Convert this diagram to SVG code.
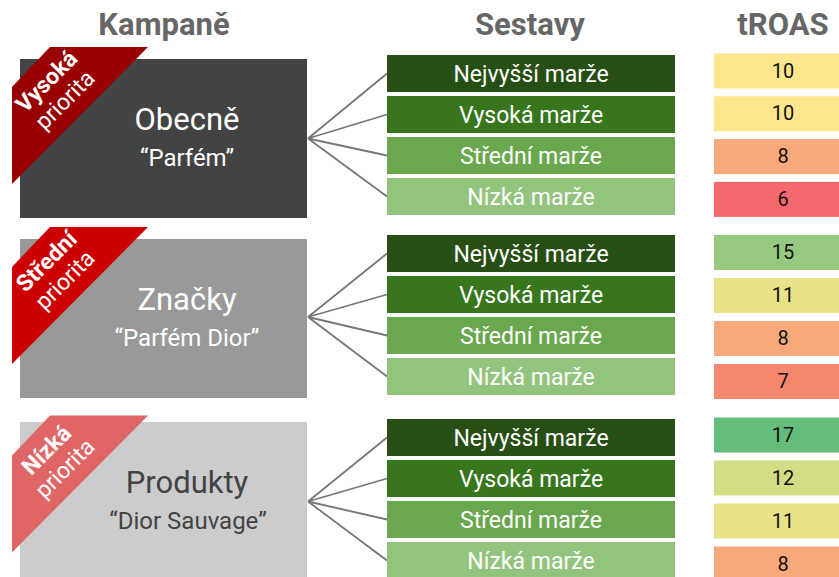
<svg xmlns="http://www.w3.org/2000/svg" width="839" height="577" viewBox="0 0 839 577">
  <style>
    text { font-family: Roboto, "Liberation Sans", sans-serif; }
    .hdr { font-size: 31px; font-weight: bold; fill: #666666; text-anchor: middle; }
    .ttl { font-size: 31px; text-anchor: middle; }
    .sub { font-size: 24px; text-anchor: middle; }
    .rb1 { font-size: 23px; font-weight: bold; fill: #ffffff; text-anchor: middle; }
    .rb2 { font-size: 23px; fill: #ffffff; text-anchor: middle; }
    .set { font-size: 23px; fill: #ffffff; text-anchor: middle; }
    .roas { font-size: 20px; fill: #111111; text-anchor: middle; }
    .link { stroke: #777777; stroke-width: 1.8; fill: none; }
  </style>

  <!-- column headers -->
  <g id="headers">
    <text class="hdr" x="164" y="35">Kampaně</text>
    <text class="hdr" x="530" y="35">Sestavy</text>
    <text class="hdr" x="783" y="35">tROAS</text>
  </g>

  <!-- connectors: campaign box to its ad groups -->
  <g id="connectors">
    <path class="link" d="M308 138.5 L387 73.5 M308 138.5 L387 114.5 M308 138.5 L387 155.5 M308 138.5 L387 196.5"/>
    <path class="link" d="M308 317 L387 253.5 M308 317 L387 294.5 M308 317 L387 335.5 M308 317 L387 376.5"/>
    <path class="link" d="M308 501.5 L387 437.5 M308 501.5 L387 478.5 M308 501.5 L387 519.5 M308 501.5 L387 560.5"/>
  </g>

  <!-- campaigns -->
  <g id="campaign-obecne">
    <rect x="20" y="59" width="287" height="159" fill="#434343"/>
    <polygon points="50,47 148,47 12,184 12,87" fill="#990000"/>
    <g transform="translate(55.5,90.5) rotate(-45)">
      <text class="rb1" x="0" y="-5">Vysoká</text>
      <text class="rb2" x="0" y="21">priorita</text>
    </g>
    <text class="ttl" x="187" y="130" fill="#ffffff">Obecně</text>
    <text class="sub" x="187" y="166" fill="#ffffff">“Parfém”</text>
  </g>

  <g id="campaign-znacky">
    <rect x="20" y="239" width="287" height="159" fill="#999999"/>
    <polygon points="50,227 148,227 12,364 12,267" fill="#cc0000"/>
    <g transform="translate(55.5,270.5) rotate(-45)">
      <text class="rb1" x="0" y="-5">Střední</text>
      <text class="rb2" x="0" y="21">priorita</text>
    </g>
    <text class="ttl" x="187" y="310" fill="#ffffff">Značky</text>
    <text class="sub" x="187" y="346" fill="#ffffff">“Parfém Dior”</text>
  </g>

  <g id="campaign-produkty">
    <rect x="20" y="422" width="287" height="159" fill="#cccccc"/>
    <polygon points="50,415.5 148,415.5 12,552.5 12,455.5" fill="#e06666"/>
    <g transform="translate(55.5,459) rotate(-45)">
      <text class="rb1" x="0" y="-5">Nízká</text>
      <text class="rb2" x="0" y="21">priorita</text>
    </g>
    <text class="ttl" x="187" y="493" fill="#434343">Produkty</text>
    <text class="sub" x="188" y="529" fill="#434343">“Dior Sauvage”</text>
  </g>

  <!-- ad groups -->
  <g id="sestavy-1">
    <rect x="387" y="55" width="288" height="37" fill="#274e13"/>
    <text class="set" x="531" y="82">Nejvyšší marže</text>
    <rect x="387" y="96" width="288" height="37" fill="#38761d"/>
    <text class="set" x="531" y="123">Vysoká marže</text>
    <rect x="387" y="137" width="288" height="37" fill="#6aa84f"/>
    <text class="set" x="531" y="164">Střední marže</text>
    <rect x="387" y="178" width="288" height="37" fill="#93c47d"/>
    <text class="set" x="531" y="205">Nízká marže</text>
  </g>

  <g id="sestavy-2">
    <rect x="387" y="235" width="288" height="37" fill="#274e13"/>
    <text class="set" x="531" y="262">Nejvyšší marže</text>
    <rect x="387" y="276" width="288" height="37" fill="#38761d"/>
    <text class="set" x="531" y="303">Vysoká marže</text>
    <rect x="387" y="317" width="288" height="37" fill="#6aa84f"/>
    <text class="set" x="531" y="344">Střední marže</text>
    <rect x="387" y="358" width="288" height="37" fill="#93c47d"/>
    <text class="set" x="531" y="385">Nízká marže</text>
  </g>

  <g id="sestavy-3">
    <rect x="387" y="419" width="288" height="37" fill="#274e13"/>
    <text class="set" x="531" y="446">Nejvyšší marže</text>
    <rect x="387" y="460" width="288" height="37" fill="#38761d"/>
    <text class="set" x="531" y="487">Vysoká marže</text>
    <rect x="387" y="501" width="288" height="37" fill="#6aa84f"/>
    <text class="set" x="531" y="528">Střední marže</text>
    <rect x="387" y="542" width="288" height="37" fill="#93c47d"/>
    <text class="set" x="531" y="569">Nízká marže</text>
  </g>

  <!-- tROAS targets -->
  <g id="troas-1">
    <rect x="714" y="53.5" width="130" height="35" fill="#fde68b"/>
    <text class="roas" x="783" y="77.5">10</text>
    <rect x="714" y="96.3" width="130" height="35" fill="#fde68b"/>
    <text class="roas" x="783" y="120.3">10</text>
    <rect x="714" y="139.1" width="130" height="35" fill="#f8a97b"/>
    <text class="roas" x="783" y="163.1">8</text>
    <rect x="714" y="181.9" width="130" height="35" fill="#f5686c"/>
    <text class="roas" x="783" y="205.9">6</text>
  </g>

  <g id="troas-2">
    <rect x="714" y="235" width="130" height="35" fill="#96c97f"/>
    <text class="roas" x="783" y="259">15</text>
    <rect x="714" y="278" width="130" height="35" fill="#e8e389"/>
    <text class="roas" x="783" y="302">11</text>
    <rect x="714" y="321" width="130" height="35" fill="#f8a97b"/>
    <text class="roas" x="783" y="345">8</text>
    <rect x="714" y="364" width="130" height="35" fill="#f7886f"/>
    <text class="roas" x="783" y="388">7</text>
  </g>

  <g id="troas-3">
    <rect x="714" y="417.5" width="130" height="35" fill="#64bd7c"/>
    <text class="roas" x="783" y="441.5">17</text>
    <rect x="714" y="460.5" width="130" height="35" fill="#d3dd85"/>
    <text class="roas" x="783" y="484.5">12</text>
    <rect x="714" y="503.5" width="130" height="35" fill="#e8e389"/>
    <text class="roas" x="783" y="527.5">11</text>
    <rect x="714" y="546.5" width="130" height="35" fill="#f8a97b"/>
    <text class="roas" x="783" y="570.5">8</text>
  </g>
</svg>
